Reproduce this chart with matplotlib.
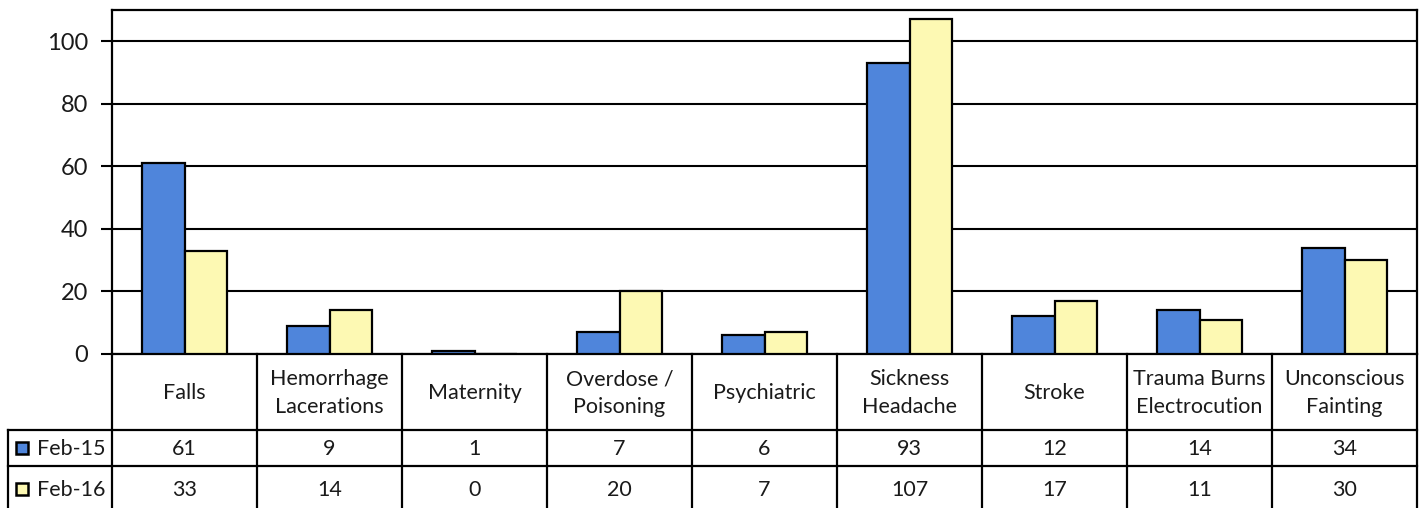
import matplotlib
matplotlib.use("Agg")
import matplotlib.pyplot as plt
import numpy as np

categories = ["Falls", "Hemorrhage\nLacerations", "Maternity", "Overdose /\nPoisoning",
              "Psychiatric", "Sickness\nHeadache", "Stroke", "Trauma Burns\nElectrocution",
              "Unconscious\nFainting"]
series_names = ["Feb-15", "Feb-16"]
feb15 = [61, 9, 1, 7, 6, 93, 12, 14, 34]
feb16 = [33, 14, 0, 20, 7, 107, 17, 11, 30]
yticks = [0, 20, 40, 60, 80, 100]

colors = ["#4f85db", "#fdf9b3"]
FONT = ["Lato", "DejaVu Sans"]
plt.rcParams["font.family"] = FONT
TXT = "#1a1a1a"
FS = 15.5

W, H = 1426, 508
fig = plt.figure(figsize=(W / 100, H / 100), dpi=100)
fig.patch.set_facecolor("white")

# pixel layout
L, R, T, Z = 112, 1417, 10, 354
ax = fig.add_axes([L / W, 1 - Z / H, (R - L) / W, (Z - T) / H])
n = len(categories)
x = np.arange(n)
bw = 0.295
ax.bar(x - bw / 2, feb15, bw, color=colors[0], edgecolor="black", linewidth=1.6, zorder=3)
ax.bar(x + bw / 2, feb16, bw, color=colors[1], edgecolor="black", linewidth=1.6, zorder=3)
ax.set_xlim(-0.5, n - 0.5)
ax.set_ylim(0, 110)
ax.set_yticks(yticks)
ax.set_yticklabels([str(v) for v in yticks], fontsize=17, color=TXT)
ax.yaxis.grid(True, color="black", linewidth=1.5, zorder=0)
ax.set_xticks([])
ax.tick_params(axis="y", length=8, width=1.5, pad=9)
for s in ax.spines.values():
    s.set_linewidth(1.6)
    s.set_color("black")

# table overlay in pixel coordinates
tx = fig.add_axes([0, 0, 1, 1], facecolor="none")
tx.set_xlim(0, W)
tx.set_ylim(H, 0)
tx.axis("off")
lw = 1.6
col_w = (R - L) / n
r0, r1, r2, r3 = Z, 430, 466, 512
LBL = 8
for i in range(n + 1):
    xx = L + i * col_w
    tx.plot([xx, xx], [r0, r3], color="black", lw=lw)
tx.plot([LBL, LBL], [r1, r3], color="black", lw=lw)
tx.plot([LBL, R], [r1, r1], color="black", lw=lw)
tx.plot([LBL, R], [r2, r2], color="black", lw=lw)

for i, c in enumerate(categories):
    cx = L + (i + 0.5) * col_w
    tx.text(cx, (r0 + r1) / 2 + 1, c, ha="center", va="center", fontsize=FS,
            color=TXT, linespacing=1.5)
    tx.text(cx, (r1 + r2) / 2 + 1, str(feb15[i]), ha="center", va="center", fontsize=FS,
            color=TXT)
    tx.text(cx, 490, str(feb16[i]), ha="center", va="center", fontsize=FS, color=TXT)

for j, (name, colr) in enumerate(zip(series_names, colors)):
    ymid = (r1 + r2) / 2 if j == 0 else 489
    tx.add_patch(plt.Rectangle((16, ymid - 6), 12, 12, facecolor=colr, edgecolor="black",
                               linewidth=1.8))
    tx.text(37, ymid + 1, name, ha="left", va="center", fontsize=FS, color=TXT)

fig.savefig("out.png", dpi=100, facecolor="white")
